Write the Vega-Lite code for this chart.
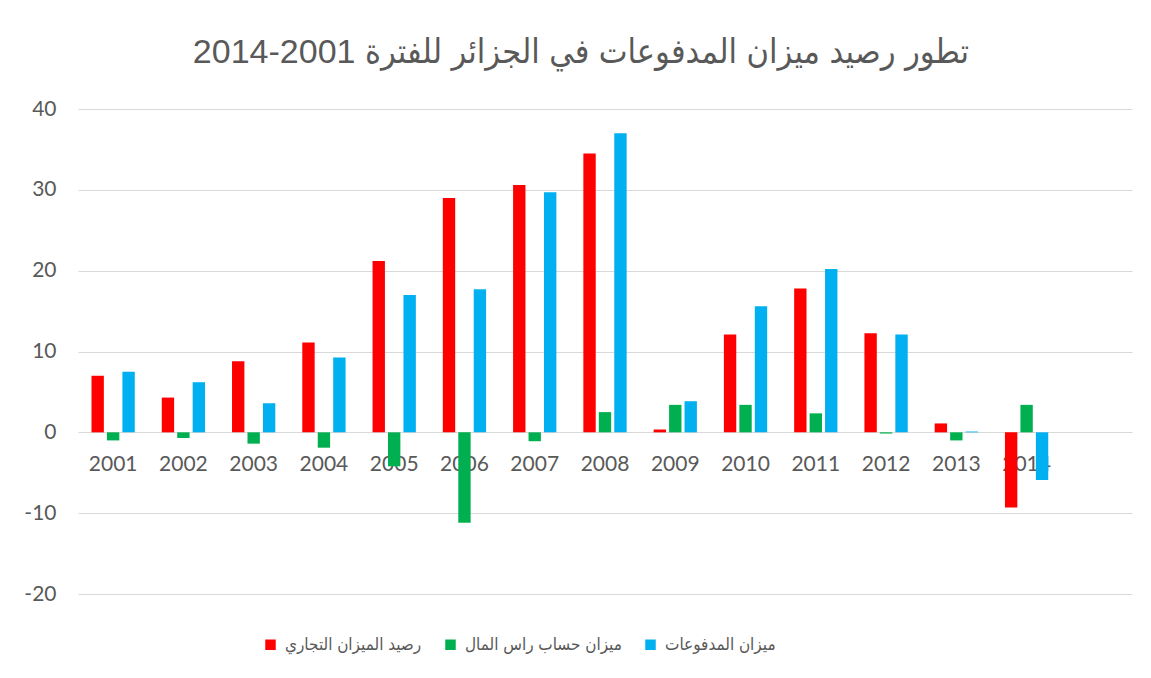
{
  "$schema": "https://vega.github.io/schema/vega-lite/v6.json",
  "autosize": "none",
  "width": 1054,
  "height": 485,
  "padding": {"left": 78, "top": 109, "right": 19, "bottom": 84},
  "background": "white",
  "title": {
    "text": "2014-2001 تطور رصيد ميزان المدفوعات في الجزائر للفترة",
    "font": "Liberation Sans, DejaVu Sans Condensed, DejaVu Sans",
    "fontSize": 34,
    "fontWeight": "normal",
    "color": "#595959",
    "anchor": "middle",
    "dx": -24,
    "baseline": "alphabetic",
    "offset": 1
  },
  "data": {
    "values": [
      {"year": "2001", "series": "رصيد الميزان التجاري", "value": 7.0},
      {"year": "2001", "series": "ميزان حساب راس المال", "value": -1.0},
      {"year": "2001", "series": "ميزان المدفوعات", "value": 7.5},
      {"year": "2002", "series": "رصيد الميزان التجاري", "value": 4.3},
      {"year": "2002", "series": "ميزان حساب راس المال", "value": -0.7},
      {"year": "2002", "series": "ميزان المدفوعات", "value": 6.2},
      {"year": "2003", "series": "رصيد الميزان التجاري", "value": 8.8},
      {"year": "2003", "series": "ميزان حساب راس المال", "value": -1.4},
      {"year": "2003", "series": "ميزان المدفوعات", "value": 3.6},
      {"year": "2004", "series": "رصيد الميزان التجاري", "value": 11.1},
      {"year": "2004", "series": "ميزان حساب راس المال", "value": -1.9},
      {"year": "2004", "series": "ميزان المدفوعات", "value": 9.25},
      {"year": "2005", "series": "رصيد الميزان التجاري", "value": 21.2},
      {"year": "2005", "series": "ميزان حساب راس المال", "value": -4.2},
      {"year": "2005", "series": "ميزان المدفوعات", "value": 17.0},
      {"year": "2006", "series": "رصيد الميزان التجاري", "value": 29.0},
      {"year": "2006", "series": "ميزان حساب راس المال", "value": -11.2},
      {"year": "2006", "series": "ميزان المدفوعات", "value": 17.7},
      {"year": "2007", "series": "رصيد الميزان التجاري", "value": 30.6},
      {"year": "2007", "series": "ميزان حساب راس المال", "value": -1.1},
      {"year": "2007", "series": "ميزان المدفوعات", "value": 29.7},
      {"year": "2008", "series": "رصيد الميزان التجاري", "value": 34.5},
      {"year": "2008", "series": "ميزان حساب راس المال", "value": 2.5},
      {"year": "2008", "series": "ميزان المدفوعات", "value": 37.0},
      {"year": "2009", "series": "رصيد الميزان التجاري", "value": 0.35},
      {"year": "2009", "series": "ميزان حساب راس المال", "value": 3.4},
      {"year": "2009", "series": "ميزان المدفوعات", "value": 3.85},
      {"year": "2010", "series": "رصيد الميزان التجاري", "value": 12.1},
      {"year": "2010", "series": "ميزان حساب راس المال", "value": 3.4},
      {"year": "2010", "series": "ميزان المدفوعات", "value": 15.6},
      {"year": "2011", "series": "رصيد الميزان التجاري", "value": 17.8},
      {"year": "2011", "series": "ميزان حساب راس المال", "value": 2.35},
      {"year": "2011", "series": "ميزان المدفوعات", "value": 20.2},
      {"year": "2012", "series": "رصيد الميزان التجاري", "value": 12.25},
      {"year": "2012", "series": "ميزان حساب راس المال", "value": -0.15},
      {"year": "2012", "series": "ميزان المدفوعات", "value": 12.1},
      {"year": "2013", "series": "رصيد الميزان التجاري", "value": 1.1},
      {"year": "2013", "series": "ميزان حساب راس المال", "value": -1.0},
      {"year": "2013", "series": "ميزان المدفوعات", "value": 0.1},
      {"year": "2014", "series": "رصيد الميزان التجاري", "value": -9.3},
      {"year": "2014", "series": "ميزان حساب راس المال", "value": 3.4},
      {"year": "2014", "series": "ميزان المدفوعات", "value": -5.9}
    ]
  },
  "mark": {"type": "bar"},
  "encoding": {
    "x": {
      "field": "year",
      "type": "nominal",
      "scale": {
        "domain": ["2001","2002","2003","2004","2005","2006","2007","2008","2009","2010","2011","2012","2013","2014"," "],
        "paddingInner": 0.34,
        "paddingOuter": 0.17
      },
      "axis": {
        "title": null,
        "orient": "bottom",
        "offset": -162,
        "domain": false,
        "ticks": false,
        "tickSize": 0,
        "labelAngle": 0,
        "labelFont": "Lato",
        "labelFontSize": 21,
        "labelColor": "#595959",
        "labelBaseline": "alphabetic",
        "labelPadding": 38,
        "zindex": 0
      }
    },
    "xOffset": {
      "field": "series",
      "type": "nominal",
      "scale": {
        "domain": ["رصيد الميزان التجاري", "ميزان حساب راس المال", "ميزان المدفوعات"],
        "paddingInner": 0.2,
        "paddingOuter": 0.1
      }
    },
    "y": {
      "field": "value",
      "type": "quantitative",
      "scale": {"domain": [-20, 40], "nice": false, "zero": false},
      "axis": {
        "title": null,
        "values": [-20, -10, 0, 10, 20, 30, 40],
        "labelExpr": "replace(datum.label, '−', '-')",
        "domain": false,
        "ticks": false,
        "tickSize": 0,
        "labelFont": "Lato",
        "labelFontSize": 21,
        "labelColor": "#595959",
        "labelPadding": 22,
        "grid": true,
        "gridColor": "#d9d9d9",
        "gridWidth": 1
      }
    },
    "color": {
      "field": "series",
      "type": "nominal",
      "scale": {
        "domain": ["رصيد الميزان التجاري", "ميزان حساب راس المال", "ميزان المدفوعات"],
        "range": ["#FF0000", "#00B050", "#00B0F0"]
      },
      "legend": {
        "title": null,
        "orient": "none",
        "direction": "horizontal",
        "legendX": 184,
        "legendY": 527,
        "padding": 0,
        "symbolType": "square",
        "symbolSize": 110,
        "symbolStrokeWidth": 0,
        "symbolOpacity": 1,
        "labelFont": "Liberation Sans, DejaVu Sans Condensed, DejaVu Sans",
        "labelFontSize": 17,
        "labelColor": "#595959",
        "labelOffset": 6,
        "columnPadding": 20,
        "labelLimit": 400
      }
    }
  },
  "config": {
    "view": {"stroke": null}
  }
}
